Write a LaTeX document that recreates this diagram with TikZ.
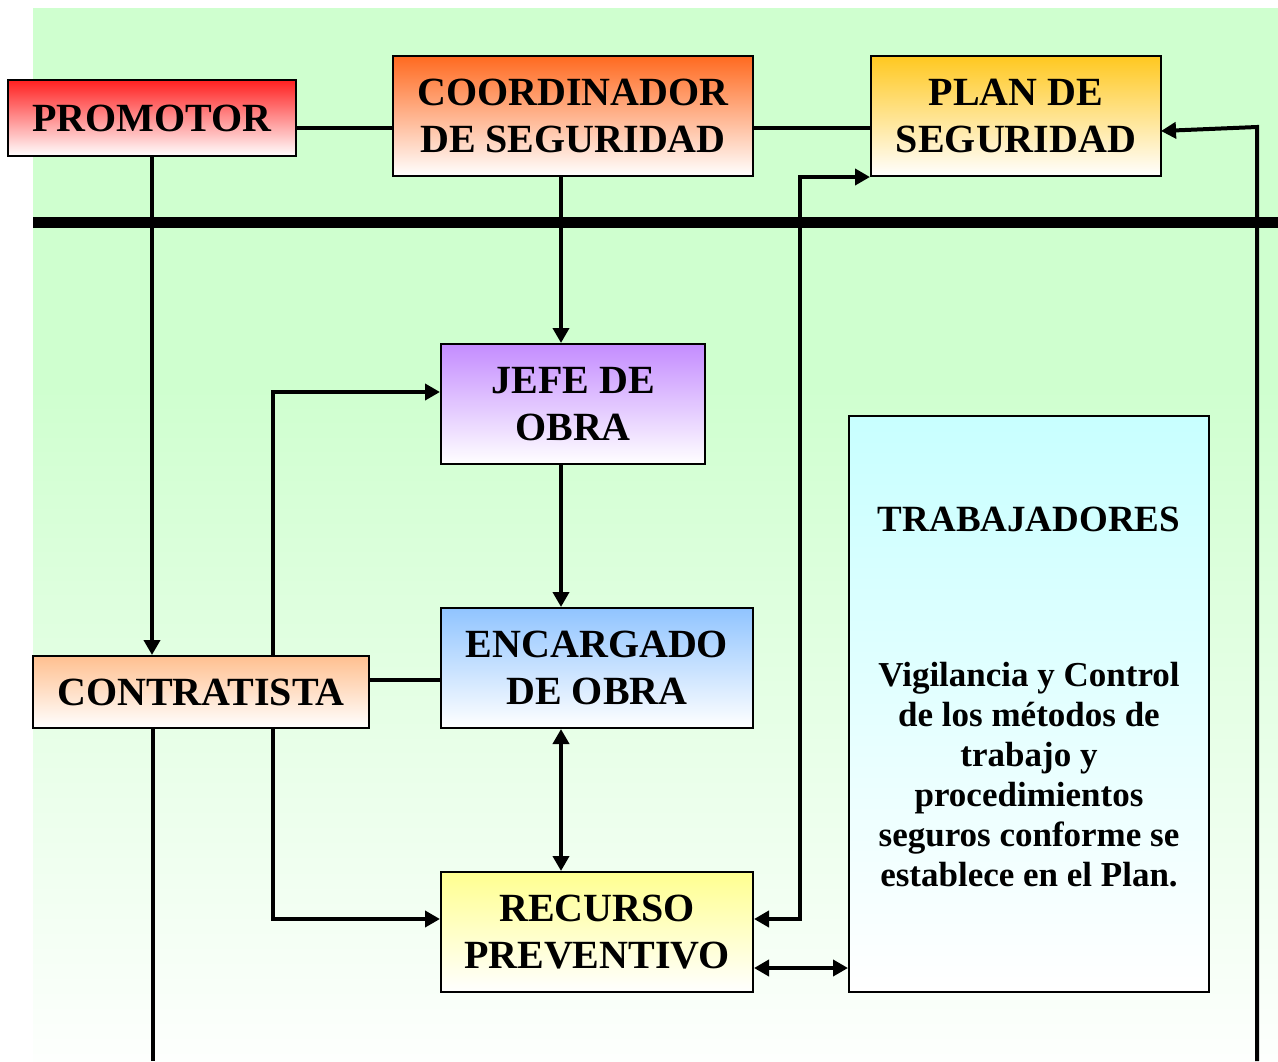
\documentclass[tikz,border=0pt]{standalone}
\usepackage{fontspec}
\setmainfont{Liberation Serif}
\usetikzlibrary{arrows.meta,shadings}
\definecolor{bgtop}{HTML}{CFFFCF}
\definecolor{bgmid}{HTML}{E8FFE8}
\definecolor{bgbot}{HTML}{FDFFFD}
\definecolor{cprom}{HTML}{FF2020}
\definecolor{ccoord}{HTML}{FF6A20}
\definecolor{cplan}{HTML}{FFC820}
\definecolor{cjefe}{HTML}{C48CFF}
\definecolor{cenc}{HTML}{90C4FF}
\definecolor{ccontr}{HTML}{FFC090}
\definecolor{crec}{HTML}{FFFF90}
\definecolor{ctrab}{HTML}{C8FFFF}
\pgfdeclareverticalshading{bgsh}{100bp}{color(0bp)=(bgbot); color(25bp)=(bgbot); color(40bp)=(bgmid); color(57bp)=(bgtop); color(100bp)=(bgtop)}
\begin{document}
\begin{tikzpicture}[x=1pt,y=-1pt,
  box/.style={draw=black, line width=2pt, inner sep=0pt, align=center,
    bottom color=white, font=\fontsize{40}{47}\selectfont\bfseries},
  conn/.style={line width=4pt},
  arr/.style={conn, -{Triangle[length=15pt,width=16pt]}},
  darr/.style={conn, {Triangle[length=15pt,width=16pt]}-{Triangle[length=15pt,width=16pt]}}]
\useasboundingbox (0,0) rectangle (1278,1061);
\shade[shading=bgsh] (33,8) rectangle (1278,1061);
% separator
\draw[line width=11pt] (33,222) -- (1278,222);
% nodes
\node[box, top color=cprom, minimum width=288pt, minimum height=76pt] (prom) at (152,118) {PROMOTOR};
\node[box, top color=ccoord, minimum width=360pt, minimum height=120pt] (coord) at (573,116) {COORDINADOR\\DE SEGURIDAD};
\node[box, top color=cplan, minimum width=290pt, minimum height=120pt] (plan) at (1016,116) {PLAN DE\\SEGURIDAD};
\node[box, top color=cjefe, minimum width=264pt, minimum height=120pt] (jefe) at (573,404) {JEFE DE\\OBRA};
\node[box, top color=cenc, minimum width=312pt, minimum height=120pt] (enc) at (597,668) {ENCARGADO\\DE OBRA};
\node[box, top color=ccontr, minimum width=336pt, minimum height=72pt] (contr) at (201,692) {CONTRATISTA};
\node[box, top color=crec, minimum width=312pt, minimum height=120pt] (rec) at (597,932) {RECURSO\\PREVENTIVO};
\node[box, top color=ctrab, minimum width=360pt, minimum height=576pt] (trab) at (1029,704) {};
\node[align=center, inner sep=0pt, font=\fontsize{35}{40}\selectfont\bfseries] (trabtxt) at (1029,697)
  {{\fontsize{37}{40}\selectfont TRABAJADORES}\\[115pt]Vigilancia y Control\\de los métodos de\\trabajo y\\procedimientos\\seguros conforme se\\establece en el Plan.};
% helper coordinates
\coordinate (h128) at (0,128);
\coordinate (v561) at (561,0);
\coordinate (v273) at (273,0);
\coordinate (v800) at (800,0);
\coordinate (h680) at (0,680);
\coordinate (h392) at (0,392);
\coordinate (h919) at (0,919);
\coordinate (h968) at (0,968);
\coordinate (cbot) at (153,1061);
\coordinate (rbot) at (1257,1061);
\coordinate (rtop) at (1257,127);
\coordinate (pin) at (1161,131);
% connectors
\draw[conn] (prom.east |- h128) -- (coord.west |- h128);
\draw[conn] (coord.east |- h128) -- (plan.west |- h128);
\draw[arr] (prom.south) -- (prom.south |- contr.north);
\draw[arr] (coord.south -| v561) -- (jefe.north -| v561);
\draw[arr] (jefe.south -| v561) -- (enc.north -| v561);
\draw[darr] (enc.south -| v561) -- (rec.north -| v561);
\draw[conn] (contr.east |- h680) -- (enc.west |- h680);
\draw[arr] (contr.north -| v273) |- (jefe.west |- h392);
\draw[arr] (contr.south -| v273) |- (rec.west |- h919);
\draw[conn] (contr.south -| cbot) -- (cbot);
\draw[darr] (rec.east |- h919) -| (v800 |- plan.south) -- (plan.south west);
\draw[darr] (rec.east |- h968) -- (trab.west |- h968);
\draw[arr] (rbot) -- (rtop) -- (pin);
\end{tikzpicture}
\end{document}
